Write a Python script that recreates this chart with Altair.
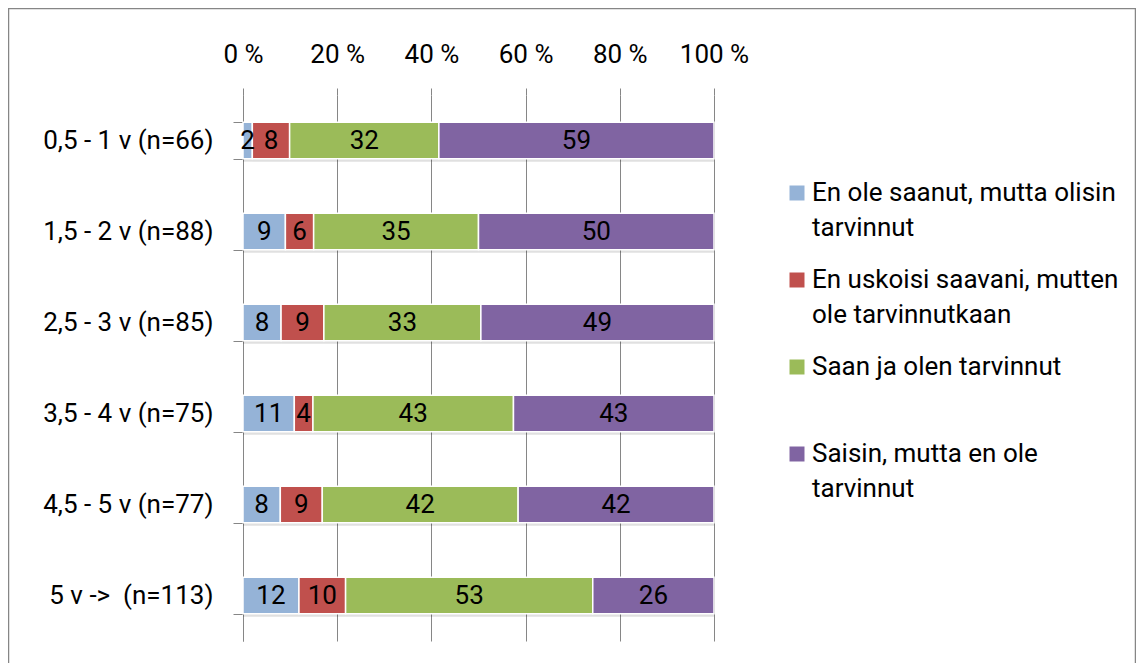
import altair as alt
import pandas as pd

categories = ["0,5 - 1 v (n=66)", "1,5 - 2 v (n=88)", "2,5 - 3 v (n=85)",
              "3,5 - 4 v (n=75)", "4,5 - 5 v (n=77)", "5 v -> \u00a0(n=113)"]
series = ["En ole saanut, mutta olisin tarvinnut",
          "En uskoisi saavani, mutten ole tarvinnutkaan",
          "Saan ja olen tarvinnut",
          "Saisin, mutta en ole tarvinnut"]
colors = ["#95B3D7", "#C0504D", "#9BBB59", "#8064A2"]

s1 = [2, 9, 8, 11, 8, 12]
s2 = [8, 6, 9, 4, 9, 10]
s3 = [32, 35, 33, 43, 42, 53]
s4 = [59, 50, 49, 43, 42, 26]

rows = []
for i, c in enumerate(categories):
    for j, vals in enumerate([s1, s2, s3, s4]):
        rows.append({"cat": c, "series": series[j], "order": j, "value": vals[i]})
df = pd.DataFrame(rows)

FONT = "Roboto"
FS = 26
GRAY = "#868686"

base = alt.Chart(df).transform_stack(
    stack="value", groupby=["cat"], as_=["v0", "v1"], offset="normalize",
    sort=[alt.SortField("order", "ascending")]
).transform_calculate(mid="(datum.v0 + datum.v1) / 2")

yenc = alt.Y("cat:N", sort=categories, title=None,
             scale=alt.Scale(paddingInner=0.6, paddingOuter=0.3),
             axis=alt.Axis(tickBand="extent", domainColor=GRAY, tickColor=GRAY,
                           tickSize=10, labelPadding=20, labelFontSize=FS,
                           labelFont=FONT, labelColor="black", grid=False,
                           labelLimit=400))

label_expr = (
    "datum.label == '" + series[0] + "' ? ['En ole saanut, mutta olisin', 'tarvinnut'] : "
    "datum.label == '" + series[1] + "' ? ['En uskoisi saavani, mutten', 'ole tarvinnutkaan'] : "
    "datum.label == '" + series[2] + "' ? ['Saan ja olen tarvinnut', ' '] : "
    "['Saisin, mutta en ole', 'tarvinnut']"
)

shadow = base.mark_bar(yOffset=3, color="#000000", opacity=0.12).encode(
    x=alt.X("v0:Q"), x2="v1:Q", y=yenc)

bars = base.mark_bar(stroke="white", strokeWidth=1.5).encode(
    x=alt.X("v0:Q", title=None, scale=alt.Scale(domain=[0, 1]),
            axis=alt.Axis(orient="top", values=[0, 0.2, 0.4, 0.6, 0.8, 1],
                          labelExpr="format(datum.value*100, 'd') + ' %'",
                          grid=True, gridColor=GRAY, tickColor=GRAY, tickSize=7,
                          domain=False, labelFontSize=FS, labelFont=FONT,
                          labelColor="black", labelPadding=26,
                          labelBaseline="alphabetic", labelOverlap=False,
                          labelFlush=False)),
    x2="v1:Q",
    y=yenc,
    color=alt.Color("series:N", scale=alt.Scale(domain=series, range=colors),
                    sort=series, title=None,
                    legend=alt.Legend(orient="none", legendX=541, legendY=85,
                                      labelExpr=label_expr, labelFontSize=FS,
                                      labelFont=FONT, labelColor="black",
                                      labelLimit=500, symbolType="square",
                                      symbolSize=225, symbolStrokeWidth=0,
                                      labelOffset=2, rowPadding=26,
                                      padding=0)),
    order=alt.Order("order:Q"),
)

texts = base.mark_text(fontSize=FS, font=FONT, color="black", baseline="middle").encode(
    x="mid:Q", y=yenc, text="value:Q")

frame = alt.Chart(alt.Data(values=[{}])).mark_rect(
    fillOpacity=0, stroke=GRAY, strokeWidth=1.5).encode(
    x=alt.value(-234.5), x2=alt.value(892.5), y=alt.value(-86.5), y2=alt.value(640))

chart = alt.layer(frame, shadow, bars, texts).properties(
    width=471, height=546,
    autosize=alt.AutoSizeParams(type="none"),
    padding={"left": 235, "top": 87, "right": 422, "bottom": 22},
).configure(
    style={"guide-label": {"lineHeight": 35}}
).configure_view(strokeWidth=0)

chart.save("out.html", embed_options={"renderer": "svg", "actions": False})
